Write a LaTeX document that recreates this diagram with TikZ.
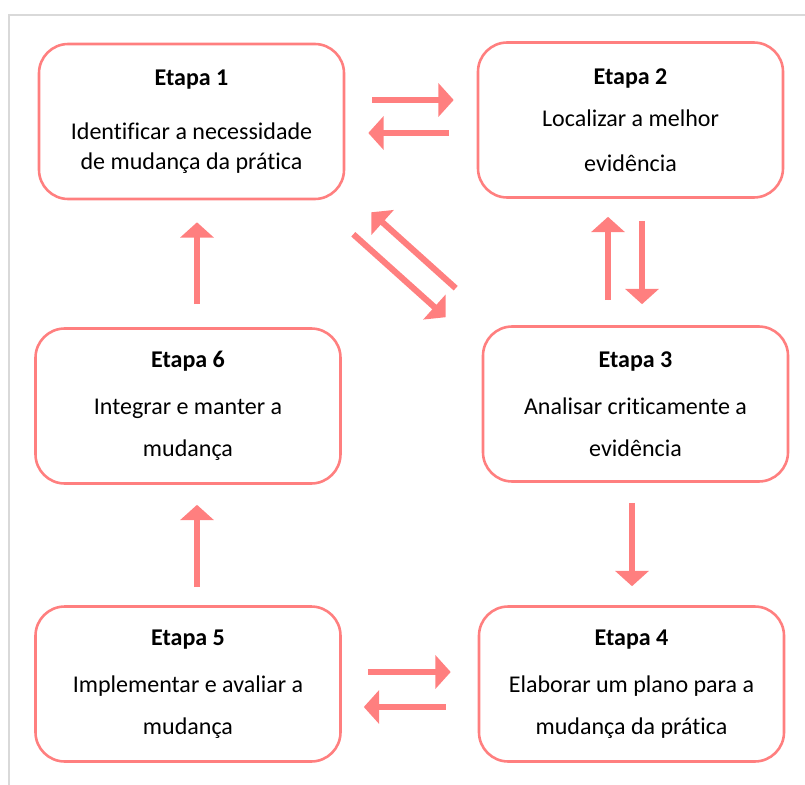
\documentclass[tikz,border=0pt]{standalone}
\usepackage{fontspec}
\setmainfont[Ligatures=NoCommon]{Carlito}
\usetikzlibrary{arrows.meta,calc,positioning}
\definecolor{stepPink}{HTML}{FF7F7F}
\definecolor{frameGray}{HTML}{D9D9D9}

\begin{document}
\begin{tikzpicture}[x=0.03cm,y=-0.03cm,%%
  boxStyle/.style={draw=stepPink,line width=2.2pt,rounded corners=25pt,%%
    minimum width=9.15cm,minimum height=4.65cm,inner sep=0pt,align=center,%%
    font=\fontsize{20.5}{25}\selectfont},%%
  arrowStyle/.style={-{Triangle[width=28pt,length=13pt]},draw=stepPink,%%
    fill=stepPink,line width=5.2pt},%%
  frameStyle/.style={-,draw=frameGray,line width=2.5pt}%%
]
%%
\useasboundingbox (0,0) rectangle (805,785);
%%
%% The grey frame, top and left only.
\coordinate (frameRight) at (805,15);
\coordinate (frameCorner) at (9,15);
\coordinate (frameBottom) at (9,785);
\draw[frameStyle] (frameRight) -- (frameCorner) -- (frameBottom);
%%
%% The six steps.
\node[boxStyle] (etapaA) at (191.5,121.5)
  {\textbf{Etapa 1}\\[21pt] Identificar a necessidade\\[0.5pt] de mudança da prática};
\node[boxStyle] (etapaB) at (630.5,120)
  {\textbf{Etapa 2}\\[11pt] Localizar a melhor\\[13pt] evidência};
\node[boxStyle] (etapaC) at (635.5,404)
  {\textbf{Etapa 3}\\[15pt] Analisar criticamente a\\[11pt] evidência};
\node[boxStyle] (etapaD) at (631.5,684)
  {\textbf{Etapa 4}\\[15pt] Elaborar um plano para a\\[11pt] mudança da prática};
\node[boxStyle] (etapaE) at (188,684)
  {\textbf{Etapa 5}\\[15pt] Implementar e avaliar a\\[11pt] mudança};
\node[boxStyle] (etapaF) at (188,406)
  {\textbf{Etapa 6}\\[15pt] Integrar e manter a\\[11pt] mudança};
%%
%% Arrows between step 1 and step 2.
\draw[arrowStyle] ($(etapaA.east)+(27,-21.5)$) -- ($(etapaB.west)+(-23,-20)$);
\draw[arrowStyle] ($(etapaB.west)+(-28,13)$) -- ($(etapaA.east)+(23,11.5)$);
%%
%% Diagonal arrows between step 1 and step 3.
\draw[arrowStyle] ($(etapaA.south east)+(8,34)$) -- ($(etapaC.north west)+(-36,-8)$);
\draw[arrowStyle] ($(etapaC.north west)+(-26,-37)$) -- ($(etapaA.south east)+(26,12)$);
%%
%% Arrows between step 2 and step 3.
\draw[arrowStyle] ($(etapaC.north)+(-27.5,-25)$) -- ($(etapaB.south)+(-22.5,18)$);
\draw[arrowStyle] ($(etapaB.south)+(11.5,22)$) -- ($(etapaC.north)+(6.5,-21)$);
%%
%% Step 3 down to step 4.
\draw[arrowStyle] ($(etapaC.south)+(-3.5,20)$) -- ($(etapaD.north)+(0.5,-19)$);
%%
%% Arrows between step 4 and step 5.
\draw[arrowStyle] ($(etapaE.east)+(26,-12)$) -- ($(etapaD.west)+(-27,-12)$);
\draw[arrowStyle] ($(etapaD.west)+(-32,23)$) -- ($(etapaE.east)+(22,23)$);
%%
%% Upward arrows on the left.
\draw[arrowStyle] ($(etapaE.north)+(9,-18)$) -- ($(etapaF.south)+(9,20)$);
\draw[arrowStyle] ($(etapaF.north)+(9,-23)$) -- ($(etapaA.south)+(5.5,22)$);
\end{tikzpicture}
\end{document}
